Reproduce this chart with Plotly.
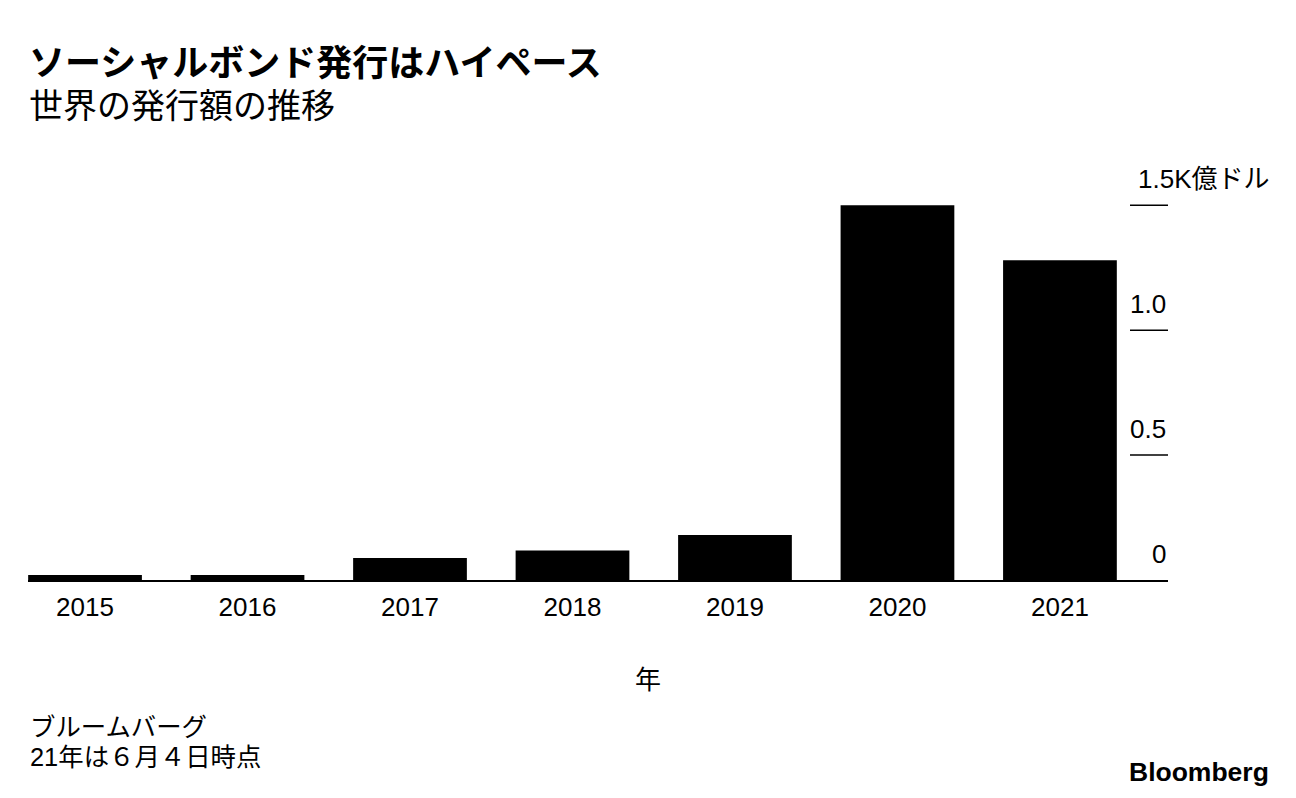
import plotly.graph_objects as go

years = ["2015", "2016", "2017", "2018", "2019", "2020", "2021"]
values = [0.02, 0.02, 0.088, 0.118, 0.18, 1.50, 1.28]
tick_vals = [0, 0.5, 1.0, 1.5]
tick_labels = ["0", "0.5", "1.0", "1.5K億ドル"]
tick_line_vals = [0.5, 1.0, 1.5]

FONT = "Liberation Sans, Arimo, Helvetica, Noto Sans CJK JP, sans-serif"
JP = "Liberation Sans, Noto Sans CJK JP, sans-serif"

OFF = 8  # page body margin offset
YMAX = 1.505
W, H = 1296 - OFF, 798 - OFF
L, R = 28 - OFF, 1168 - OFF
B = 580 - OFF
T = round(B - 375 * YMAX / 1.5, 2)

xpos = list(range(len(years)))

fig = go.Figure()
fig.add_trace(go.Bar(x=xpos, y=values, marker=dict(color="#000000", line=dict(width=0)),
                     width=0.70, hoverinfo="x+y"))

fig.update_layout(
    width=W, height=H,
    margin=dict(l=L, r=W - R, t=T, b=H - B, pad=0),
    paper_bgcolor="white", plot_bgcolor="white",
    showlegend=False,
    font=dict(family=FONT, color="#000000", size=26),
    xaxis=dict(
        range=[-0.351, 6.665],
        tickmode="array", tickvals=xpos, ticktext=years,
        showgrid=False, zeroline=False,
        showline=True, linecolor="#000000", linewidth=1.5,
        ticks="", ticklabelstandoff=3,
        tickfont=dict(size=26, family=FONT),
        fixedrange=True,
    ),
    yaxis=dict(
        range=[0, YMAX], side="right",
        showticklabels=False, showgrid=False, zeroline=False, showline=False,
        ticks="", fixedrange=True,
    ),
)

def pax(px):
    return (px - OFF - L) / (R - L)

def pay(py):
    return (B - (py - OFF)) / (B - T)

# tick lines on the right
for v in tick_line_vals:
    fig.add_shape(type="line", xref="paper", yref="y", x0=pax(1130), x1=1.0, y0=v, y1=v,
                  line=dict(color="#000000", width=1.5), layer="above")

# y tick labels (right aligned above the tick lines)
for v, t in zip(tick_vals, tick_labels):
    if v == 1.5:
        fig.add_annotation(x=pax(1136), xref="paper", y=v, yref="y",
                           text=t, showarrow=False, xanchor="left", yanchor="bottom",
                           yshift=9, font=dict(size=26, family=JP))
    else:
        fig.add_annotation(x=1.0, xref="paper", y=v, yref="y",
                           text=t, showarrow=False, xanchor="right", yanchor="bottom",
                           yshift=9, font=dict(size=26, family=JP))

# Title & subtitle
fig.add_annotation(x=pax(27), y=pay(32), xref="paper", yref="paper", xanchor="left", yanchor="top",
                   text="<b><span style='font-size:36px'>ソーシャルボンド発行はハイペース</span></b><br>"
                        "<span style='font-size:34px'>世界の発行額の推移</span>",
                   showarrow=False, align="left",
                   font=dict(size=32, family="Noto Sans CJK JP, sans-serif"))

# x-axis title
fig.add_annotation(x=pax(648), y=pay(680), xref="paper", yref="paper", xanchor="center", yanchor="middle",
                   text="年", showarrow=False, font=dict(size=26, family=JP))

# Footer notes
fig.add_annotation(x=pax(28), y=pay(727), xref="paper", yref="paper", xanchor="left", yanchor="middle",
                   text="ブルームバーグ", showarrow=False, font=dict(size=25.4, family=JP))
fig.add_annotation(x=pax(28), y=pay(757), xref="paper", yref="paper", xanchor="left", yanchor="middle",
                   text="21年は６月４日時点", showarrow=False, font=dict(size=25.4, family=JP))

# Bloomberg logo text
fig.add_annotation(x=pax(1271), y=pay(772), xref="paper", yref="paper", xanchor="right", yanchor="middle",
                   text="<b>Bloomberg</b>", showarrow=False,
                   font=dict(size=26.5, family="Liberation Sans, Arimo, sans-serif"))

fig.write_html("out.html")
